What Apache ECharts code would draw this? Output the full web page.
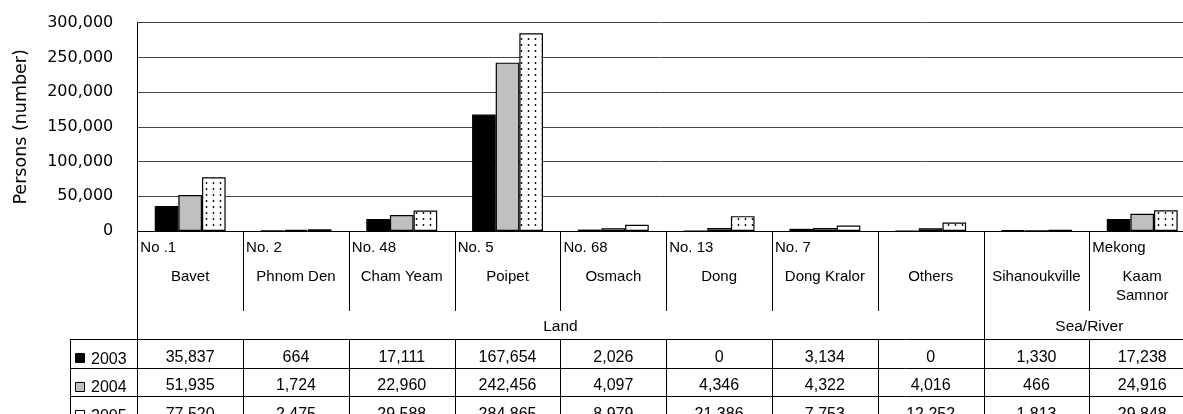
<!DOCTYPE html>
<html>
<head>
<meta charset="utf-8">
<script src="https://cdn.jsdelivr.net/npm/echarts@6/dist/echarts.min.js"></script>
<style>
  html, body { margin: 0; padding: 0; background: #fff; }
  #chart { width: 1183px; height: 414px; }
</style>
</head>
<body>
<div id="chart"></div>
<script>
// Border crossings into Cambodia, persons per checkpoint and year
const categories = ['Bavet', 'Phnom Den', 'Cham Yeam', 'Poipet', 'Osmach', 'Dong', 'Dong Kralor', 'Others', 'Sihanoukville', 'Kaam\nSamnor'];
const routeLabels = ['No .1', 'No. 2', 'No. 48', 'No. 5', 'No. 68', 'No. 13', 'No. 7', '', '', 'Mekong'];
const groupNames = ['Land', 'Sea/River'];
const groupSizes = [8, 2];
const years = ['2003', '2004', '2005'];
const values2003 = [35837, 664, 17111, 167654, 2026, 0, 3134, 0, 1330, 17238];
const values2004 = [51935, 1724, 22960, 242456, 4097, 4346, 4322, 4016, 466, 24916];
const values2005 = [77520, 2475, 29588, 284865, 8979, 21386, 7753, 12252, 1813, 29848];
const yearValues = [values2003, values2004, values2005];
const yMax = 300000;
const yStep = 50000;

const labelFont = 'Liberation Sans, Arial, sans-serif';
const tickFont = 'DejaVu Sans, sans-serif';

// white fill with a regular grid of small black dots
function dotPattern() {
  const c = document.createElement('canvas');
  c.width = 7; c.height = 6;
  const g = c.getContext('2d');
  g.fillStyle = '#fff';
  g.fillRect(0, 0, 7, 6);
  g.fillStyle = '#000';
  g.beginPath();
  g.arc(3.5, 3, 0.9, 0, Math.PI * 2);
  g.fill();
  return c;
}

const fills = ['#000000', '#c0c0c0', { image: dotPattern(), repeat: 'repeat' }];
const keyFills = ['#000000', '#c0c0c0', '#ffffff'];

const fmt = v => v.toLocaleString('en-US');

const chart = echarts.init(document.getElementById('chart'));

chart.setOption({
  animation: false,
  backgroundColor: '#fff',
  // the plot runs a little past the right edge of the page
  grid: { left: 137.3, top: 22.7, width: 1057.8, bottom: 183, containLabel: false, outerBoundsMode: 'none' },
  xAxis: {
    type: 'category',
    data: categories,
    axisLine: { show: true, lineStyle: { color: '#000', width: 1 } },
    axisTick: { show: false },
    axisLabel: { show: false },
    splitLine: { show: false }
  },
  yAxis: {
    type: 'value',
    min: 0,
    max: yMax,
    interval: yStep,
    name: 'Persons (number)',
    nameLocation: 'middle',
    nameGap: 107,
    nameTextStyle: { fontFamily: tickFont, fontSize: 17.5, color: '#000' },
    axisLine: { show: true, lineStyle: { color: '#000', width: 1 } },
    axisTick: { show: false },
    axisLabel: { fontFamily: tickFont, fontSize: 16, color: '#000', margin: 24, formatter: v => fmt(v) },
    splitLine: { show: true, lineStyle: { color: '#444', width: 1 } }
  },
  series: years.map((y, i) => ({
    name: y,
    type: 'bar',
    data: yearValues[i],
    barGap: '0%',
    barCategoryGap: '33%',
    itemStyle: { color: fills[i], borderColor: '#000', borderWidth: 1.2 }
  }))
});

// data table under the plot, aligned with the category axis
function buildTable() {
  const c0 = chart.convertToPixel({ xAxisIndex: 0 }, 0);
  const c1 = chart.convertToPixel({ xAxisIndex: 0 }, 1);
  const step = c1 - c0;
  const n = categories.length;
  const leftEdge = c0 - step / 2;
  const rightEdge = leftEdge + step * n;
  const axisY = chart.convertToPixel({ yAxisIndex: 0 }, 0);
  const headerBottom = axisY + 80;
  const groupBottom = axisY + 108.3;
  const rowH = 28.5;
  const legendLeft = 70;
  const bottom = 430;
  const px = v => Math.round(v) + 0.5;

  const els = [];
  const line = (x1, y1, x2, y2) => els.push({
    type: 'line', silent: true,
    shape: { x1, y1, x2, y2 },
    style: { stroke: '#000', lineWidth: 1 }
  });
  const text = (t, x, y, align, size) => els.push({
    type: 'text', silent: true,
    style: { text: t, x, y, fill: '#000', fontFamily: labelFont, fontSize: size, align, verticalAlign: 'middle', lineHeight: 19 }
  });

  // group boundaries (category index where each group starts)
  const groupStarts = [];
  let acc = 0;
  groupSizes.forEach(s => { groupStarts.push(acc); acc += s; });

  for (let i = 0; i <= n; i++) {
    const x = px(leftEdge + i * step);
    if (i === 0 || groupStarts.includes(i)) {
      line(x, axisY, x, bottom);
    } else {
      line(x, axisY, x, headerBottom);
      line(x, groupBottom, x, bottom);
    }
  }
  line(px(legendLeft), groupBottom, px(legendLeft), bottom);
  for (let r = 0; r < 3; r++) {
    const y = px(groupBottom + r * rowH);
    line(legendLeft, y, rightEdge, y);
  }

  // category header cells
  categories.forEach((name, i) => {
    const xl = leftEdge + i * step;
    const xc = xl + step / 2;
    if (routeLabels[i]) text(routeLabels[i], xl + 3, axisY + 17, 'left', 15);
    const parts = name.split('\n');
    parts.forEach((p, k) => text(p, xc, axisY + 46 + k * 19, 'center', 15));
  });

  // group captions
  groupNames.forEach((g, k) => {
    const a = leftEdge + groupStarts[k] * step;
    const b = a + groupSizes[k] * step;
    text(g, (a + b) / 2, axisY + 96, 'center', 15.5);
  });

  // year keys in the first column
  years.forEach((y, r) => {
    const top = groupBottom + r * rowH;
    els.push({
      type: 'rect', silent: true,
      shape: { x: 75.5, y: Math.round(top + 14) + 0.5, width: 9, height: 9 },
      style: { fill: keyFills[r], stroke: '#000', lineWidth: 1 }
    });
    text(y, 91, top + 20, 'left', 16);
  });

  // values per year
  yearValues.forEach((vals, r) => {
    vals.forEach((v, i) => {
      const xc = leftEdge + (i + 0.5) * step;
      text(fmt(v), xc, groupBottom + r * rowH + 18, 'center', 16);
    });
  });

  chart.setOption({ graphic: els });
}

buildTable();
</script>
</body>
</html>
